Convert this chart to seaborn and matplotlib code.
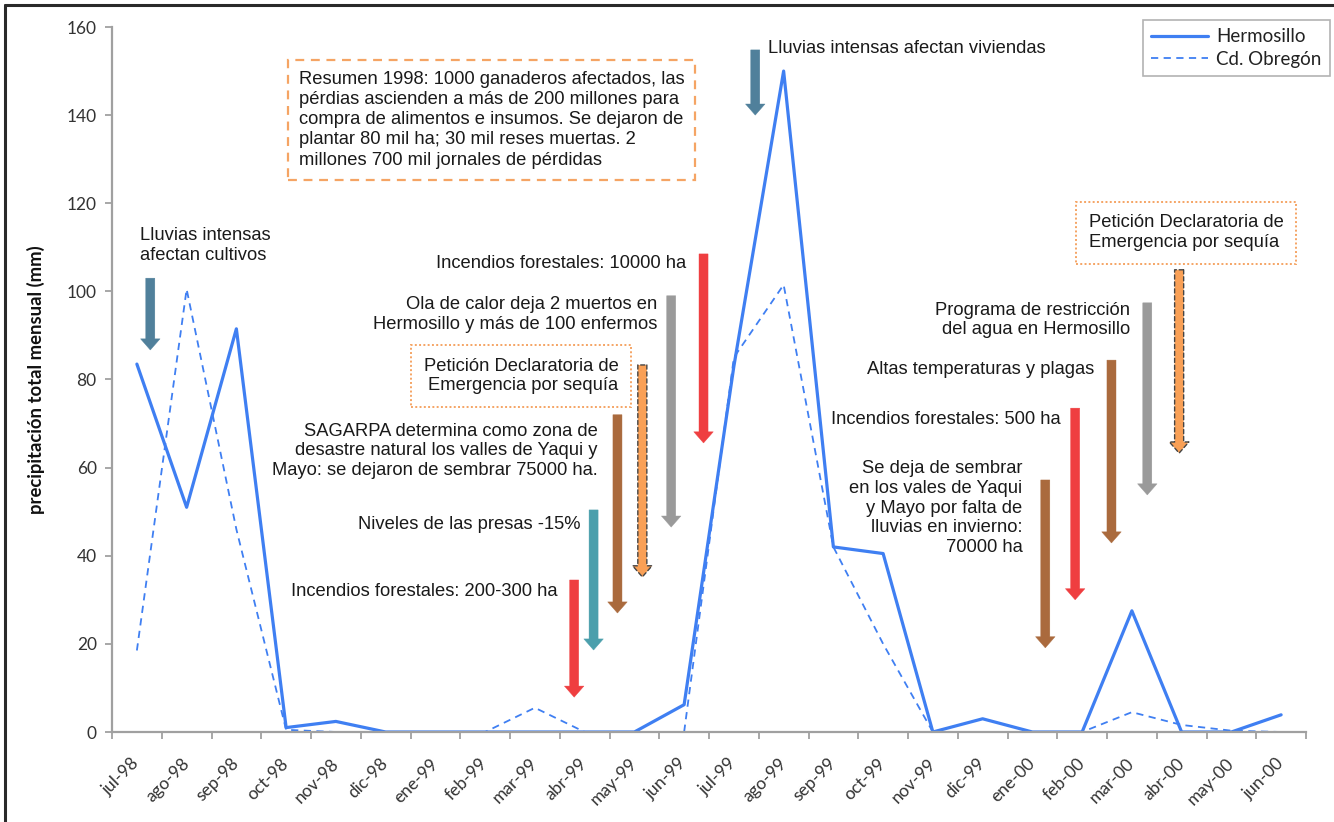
import numpy as np
import pandas as pd
import matplotlib
matplotlib.use("Agg")
import matplotlib.pyplot as plt
import seaborn as sns
from matplotlib.lines import Line2D
from matplotlib.ticker import FixedLocator

# ---------------- data ----------------
months = ["jul-98", "ago-98", "sep-98", "oct-98", "nov-98", "dic-98",
          "ene-99", "feb-99", "mar-99", "abr-99", "may-99", "jun-99",
          "jul-99", "ago-99", "sep-99", "oct-99", "nov-99", "dic-99",
          "ene-00", "feb-00", "mar-00", "abr-00", "may-00", "jun-00"]
hermosillo = [83.5, 51.0, 91.5, 1.0, 2.4, 0.0,
              0.0, 0.0, 0.0, 0.0, 0.0, 6.2,
              83.0, 150.0, 42.0, 40.5, 0.0, 3.0,
              0.0, 0.0, 27.5, 0.0, 0.0, 3.9]
obregon = [18.5, 100.5, 46.0, 0.5, 0.0, 0.0,
           0.0, 0.0, 5.5, 0.0, 0.0, 0.0,
           85.0, 101.5, 42.0, 20.0, 0.0, 0.0,
           0.0, 0.0, 4.5, 1.6, 0.3, 0.0]
series_names = ["Hermosillo", "Cd. Obregón"]
yticks = [0, 20, 40, 60, 80, 100, 120, 140, 160]

# events: (text, arrow x, arrow y start, arrow y end, colour key)
events = [
    ("Lluvias intensas\nafectan cultivos", 0.27, 103.0, 86.7, "steel"),
    ("Lluvias intensas afectan viviendas", 12.43, 154.8, 140.0, "steel"),
    ("Incendios forestales: 200-300 ha", 8.79, 34.5, 7.9, "red"),
    ("Niveles de las presas -15%", 9.18, 50.4, 18.6, "teal"),
    ("SAGARPA determina como zona de\ndesastre natural los valles de Yaqui y\nMayo: se dejaron de sembrar 75000 ha.", 9.66, 72.0, 27.0, "brown"),
    ("Petición Declaratoria de\nEmergencia por sequía", 10.16, 83.3, 35.2, "orange"),
    ("Ola de calor deja 2 muertos en\nHermosillo y más de 100 enfermos", 10.74, 99.0, 46.5, "gray"),
    ("Incendios forestales: 10000 ha", 11.39, 108.5, 65.6, "red"),
    ("Se deja de sembrar\nen los vales de Yaqui\ny Mayo por falta de\nlluvias en invierno:\n70000 ha", 18.26, 57.2, 19.1, "brown"),
    ("Incendios forestales: 500 ha", 18.86, 73.5, 30.0, "red"),
    ("Altas temperaturas y plagas", 19.59, 84.4, 42.9, "brown"),
    ("Programa de restricción\ndel agua en Hermosillo", 20.31, 97.4, 53.8, "gray"),
    ("Petición Declaratoria de\nEmergencia por sequía", 20.95, 104.9, 63.3, "orange"),
]
summary = ("Resumen 1998: 1000 ganaderos afectados, las\n"
           "pérdias ascienden a más de 200 millones para\n"
           "compra de alimentos e insumos. Se dejaron de\n"
           "plantar 80 mil ha; 30 mil reses muertas. 2\n"
           "millones 700 mil jornales de pérdidas")

# label placement: (x, y, ha, multialignment, box)
label_pos = [
    (0.07, 110.4, "left", "left", None),
    (12.69, 155.2, "left", "left", None),
    (8.45, 32.0, "right", "right", None),
    (8.92, 47.0, "right", "right", None),
    (9.26, 63.8, "right", "right", None),
    (9.68, 80.8, "right", "right", "dotted"),
    (10.46, 94.8, "right", "right", None),
    (11.04, 106.4, "right", "right", None),
    (17.80, 50.8, "right", "right", None),
    (18.56, 71.0, "right", "right", None),
    (19.24, 82.2, "right", "right", None),
    (19.97, 93.5, "right", "right", None),
    (19.13, 113.3, "left", "left", "dotted"),
]

colors = {"steel": "#50809b", "red": "#ef3e40", "teal": "#4b9fac",
          "brown": "#aa6a3d", "gray": "#9a9a9a", "orange": "#f9a056"}
line_blue = "#3f7ff2"
box_orange = "#f5a464"

# ---------------- figure ----------------
sns.set_theme(style="white")
plt.rcParams["font.family"] = ["Liberation Sans", "DejaVu Sans"]

W, H = 1334, 822
fig = plt.figure(figsize=(W / 100, H / 100), dpi=100)
ax = fig.add_axes([112 / W, 90 / H, 1194 / W, 705 / H])

df = pd.DataFrame({
    "idx": list(range(len(months))) * 2,
    "pp": hermosillo + obregon,
    "estacion": [series_names[0]] * len(months) + [series_names[1]] * len(months),
})
sns.lineplot(data=df[df.estacion == series_names[0]], x="idx", y="pp",
             color=line_blue, lw=2.3, ax=ax, label=series_names[0])
sns.lineplot(data=df[df.estacion == series_names[1]], x="idx", y="pp",
             color=line_blue, lw=1.3, linestyle=(0, (4, 3)), ax=ax,
             label=series_names[1])

ax.set_xlim(-0.5, len(months) - 0.5)
ax.set_ylim(0, 160)
ax.set_yticks(yticks)
ax.set_xticks(range(len(months)))
ax.set_xticklabels(months, rotation=45, ha="right", va="center",
                   rotation_mode="anchor", fontfamily="Lato", fontsize=12.5,
                   color="#333333")
ax.xaxis.set_minor_locator(FixedLocator(np.arange(-0.5, len(months), 1.0)))
ax.tick_params(axis="x", which="major", length=0, pad=21)
ax.tick_params(axis="x", which="minor", length=5, width=1.3, color="#a0a0a0",
               direction="out", bottom=True)
ax.tick_params(axis="y", length=5, width=1.3, color="#a0a0a0", pad=6,
               direction="out", left=True)
for lbl in ax.get_yticklabels():
    lbl.set_fontfamily("Lato")
    lbl.set_fontsize(12.5)
    lbl.set_color("#333333")

for s in ["top", "right"]:
    ax.spines[s].set_visible(False)
for s in ["left", "bottom"]:
    ax.spines[s].set_color("#a0a0a0")
    ax.spines[s].set_linewidth(1.6)
ax.set_xlabel("")
ax.set_ylabel("precipitación total mensual (mm)", fontfamily="Lato",
              fontweight="bold", fontsize=13.3, color="#111111")
ax.yaxis.set_label_coords(-0.056, 0.5)

# arrows and labels
for (txt, ax_x, y0, y1, ck), (tx, ty, ha, ma, box) in zip(events, label_pos):
    dashed = ck == "orange"
    ax.annotate("", xy=(ax_x, y1), xytext=(ax_x, y0), xycoords="data",
                arrowprops=dict(
                    arrowstyle="simple,head_length=0.8,head_width=1.4,tail_width=0.65",
                    fc=colors[ck], ec="#444444" if dashed else colors[ck],
                    lw=1.0 if dashed else 0.3,
                    linestyle=(0, (3, 2)) if dashed else "-",
                    shrinkA=0, shrinkB=0, mutation_scale=10),
                annotation_clip=False)
    kw = {}
    if box:
        kw["bbox"] = dict(boxstyle="square,pad=0.7", fc="white", ec=box_orange,
                          ls=(0, (1, 1.2)), lw=1.4)
    ax.text(tx, ty, txt, ha=ha, va="center", multialignment=ma,
            fontsize=13.2, color="#1a1a1a", linespacing=1.2, clip_on=False, **kw)

ax.text(3.25, 139.0, summary, ha="left", va="center", fontsize=13.2,
        color="#1a1a1a", linespacing=1.25,
        bbox=dict(boxstyle="square,pad=0.6", fc="white", ec=box_orange,
                  ls=(0, (4, 3)), lw=1.6))

leg = ax.legend(loc="upper left", bbox_to_anchor=(1143 / W, 1 - 20 / H),
                bbox_transform=fig.transFigure, frameon=True, fancybox=False,
                edgecolor="#a0a0a0", borderaxespad=0, handlelength=3.0,
                handletextpad=0.45, borderpad=0.45, labelspacing=0.3,
                prop={"family": "Lato", "size": 13.5})
leg.get_frame().set_linewidth(1.2)
for t in leg.get_texts():
    t.set_color("#222222")

# outer frame (top and left edges visible)
fig.add_artist(Line2D([5 / W, 1.02], [1 - 5 / H, 1 - 5 / H],
                      transform=fig.transFigure, color="#2a2a2a", lw=2.2))
fig.add_artist(Line2D([5 / W, 5 / W], [-0.02, 1 - 5 / H],
                      transform=fig.transFigure, color="#2a2a2a", lw=2.2))

fig.savefig("out.png", dpi=100, facecolor="white")
